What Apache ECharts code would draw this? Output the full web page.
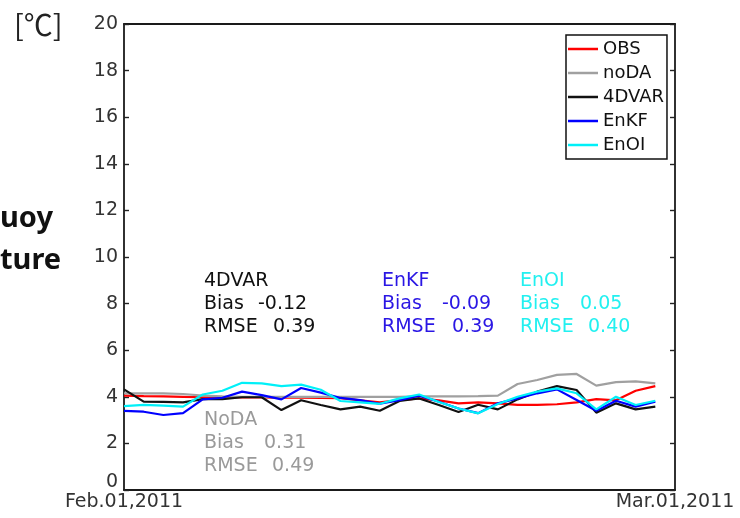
<!DOCTYPE html>
<html>
<head>
<meta charset="utf-8">
<script src="https://cdn.jsdelivr.net/npm/echarts@6/dist/echarts.min.js"></script>
<style>html,body{margin:0;padding:0;background:#fff}#c{width:740px;height:518px}</style>
</head>
<body>
<div id="c"></div>
<script>
// Daily values, Feb.01 .. Feb.28, 2011
const dates = ['Feb.01','Feb.02','Feb.03','Feb.04','Feb.05','Feb.06','Feb.07','Feb.08','Feb.09','Feb.10',
  'Feb.11','Feb.12','Feb.13','Feb.14','Feb.15','Feb.16','Feb.17','Feb.18','Feb.19','Feb.20',
  'Feb.21','Feb.22','Feb.23','Feb.24','Feb.25','Feb.26','Feb.27','Feb.28'];
const obs      = [4.05,4.03,4.02,4.00,3.98,3.98,3.97,3.97,3.96,3.96,3.95,3.94,3.85,3.76,3.86,3.93,3.85,3.72,3.76,3.72,3.65,3.65,3.68,3.76,3.90,3.85,4.26,4.46];
const noDA     = [4.15,4.15,4.15,4.12,4.05,4.02,4.00,4.00,4.00,4.00,4.00,4.00,4.00,4.00,4.00,4.02,4.02,4.02,4.03,4.05,4.55,4.72,4.94,4.98,4.48,4.63,4.66,4.58];
const fourDVAR = [4.32,3.79,3.78,3.76,3.90,3.90,3.98,3.98,3.43,3.85,3.65,3.46,3.58,3.40,3.82,3.93,3.65,3.35,3.66,3.46,3.89,4.22,4.46,4.29,3.32,3.72,3.46,3.58];
const enkf     = [3.40,3.36,3.22,3.30,3.89,3.96,4.22,4.07,3.89,4.38,4.18,3.95,3.86,3.70,3.86,4.05,3.79,3.50,3.30,3.72,3.93,4.15,4.32,3.86,3.40,3.83,3.58,3.79];
const enoi     = [3.60,3.65,3.62,3.58,4.10,4.26,4.60,4.58,4.46,4.52,4.30,3.82,3.76,3.70,3.93,4.10,3.78,3.50,3.29,3.69,4.00,4.22,4.36,4.15,3.46,4.00,3.65,3.83];
const seriesNames = ['OBS','noDA','4DVAR','EnKF','EnOI'];
const xTickLabels = ['Feb.01,2011','Mar.01,2011'];
const yMin = 0, yMax = 20, yStep = 2;
const stats = [
  {name:'4DVAR', bias:'-0.12', rmse:'0.39'},
  {name:'EnKF',  bias:'-0.09', rmse:'0.39'},
  {name:'EnOI',  bias:'0.05',  rmse:'0.40'},
  {name:'NoDA',  bias:'0.31',  rmse:'0.49'}
];

const colors = ['#ff0000','#a0a0a0','#111111','#0000ff','#00f0f8'];
const seriesData = [obs, noDA, fourDVAR, enkf, enoi];
const FONT = 'DejaVu Sans';

const chart = echarts.init(document.getElementById('c'), null, {renderer:'canvas'});

const axisLineStyle = {color:'#1a1a1a', width:1.8};

function statBlock(s, x, xb, xr, y0, color) {
  const f = '19px "' + FONT + '"';
  return [
    {type:'text', x:x, y:y0, style:{text:s.name, font:f, fill:color, verticalAlign:'middle'}},
    {type:'text', x:x, y:y0+23, style:{text:'Bias', font:f, fill:color, verticalAlign:'middle'}},
    {type:'text', x:xb, y:y0+23, style:{text:s.bias, font:f, fill:color, verticalAlign:'middle'}},
    {type:'text', x:x, y:y0+46, style:{text:'RMSE', font:f, fill:color, verticalAlign:'middle'}},
    {type:'text', x:xr, y:y0+46, style:{text:s.rmse, font:f, fill:color, verticalAlign:'middle'}}
  ];
}

const graphics = [].concat(
  statBlock(stats[0], 204, 258, 273, 281, '#111111'),
  statBlock(stats[1], 382, 442, 452, 281, '#2a16e4'),
  statBlock(stats[2], 520, 580, 588, 281, '#22f0f0'),
  statBlock(stats[3], 204, 264, 272, 420, '#9a9a9a'),
  [
    {type:'text', x:14, y:25, style:{text:'[℃]', font:'29px "Noto Sans CJK JP"', fill:'#222', verticalAlign:'middle'}},
    {type:'text', x:0, y:219, style:{text:'uoy', font:'bold 29px "Noto Sans"', fill:'#111', verticalAlign:'middle'}},
    {type:'text', x:0, y:261, style:{text:'ture', font:'bold 29px "Noto Sans"', fill:'#111', verticalAlign:'middle'}}
  ]
);

chart.setOption({
  animation:false,
  backgroundColor:'#fff',
  grid:{left:124, right:65, top:24, bottom:28, show:false},
  legend:{
    orient:'vertical', left:566, top:35,
    data:seriesNames.map(function(n){ return {name:n, icon:'rect'}; }),
    borderColor:'#111', borderWidth:1.5, borderRadius:0,
    padding:[5,3,5,2],
    itemWidth:30, itemHeight:2.5, itemGap:6,
    textStyle:{fontFamily:FONT, fontSize:18, color:'#111', lineHeight:16}
  },
  xAxis:[
    {type:'value', min:0, max:28, interval:28, position:'bottom',
     axisLine:{show:true, onZero:false, lineStyle:axisLineStyle},
     axisTick:{show:false}, splitLine:{show:false},
     axisLabel:{show:true, showMinLabel:true, showMaxLabel:true, margin:3,
       fontFamily:FONT, fontSize:19, color:'#333',
       formatter:function(v){ return v===0 ? xTickLabels[0] : (v===28 ? xTickLabels[1] : ''); }}},
    {type:'value', min:0, max:28, interval:28, position:'top',
     axisLine:{show:true, onZero:false, lineStyle:axisLineStyle},
     axisTick:{show:false}, splitLine:{show:false}, axisLabel:{show:false}}
  ],
  yAxis:[
    {type:'value', min:yMin, max:yMax, interval:yStep, position:'left',
     axisLine:{show:true, onZero:false, lineStyle:axisLineStyle},
     axisTick:{show:true, inside:true, length:5, lineStyle:{color:'#222', width:1.4}},
     splitLine:{show:false},
     axisLabel:{margin:6, fontFamily:FONT, fontSize:19, color:'#333',
       formatter:function(v){ return v===0 ? '{z|0}' : String(v); },
       rich:{z:{fontFamily:FONT, fontSize:19, color:'#333', padding:[0,0,16,0]}}}},
    {type:'value', min:yMin, max:yMax, interval:yStep, position:'right',
     axisLine:{show:true, onZero:false, lineStyle:axisLineStyle},
     axisTick:{show:true, inside:true, length:5, lineStyle:{color:'#222', width:1.4}},
     splitLine:{show:false}, axisLabel:{show:false}}
  ],
  series: seriesNames.map(function(n, k){
    return {
      name:n, type:'line', xAxisIndex:0, yAxisIndex:0,
      symbol:'none', showSymbol:false,
      lineStyle:{color:colors[k], width:2.2},
      itemStyle:{color:colors[k]},
      z: 2 + k,
      data: dates.map(function(d,i){ return [i, seriesData[k][i]]; })
    };
  }),
  graphic: graphics
});
</script>
</body>
</html>
